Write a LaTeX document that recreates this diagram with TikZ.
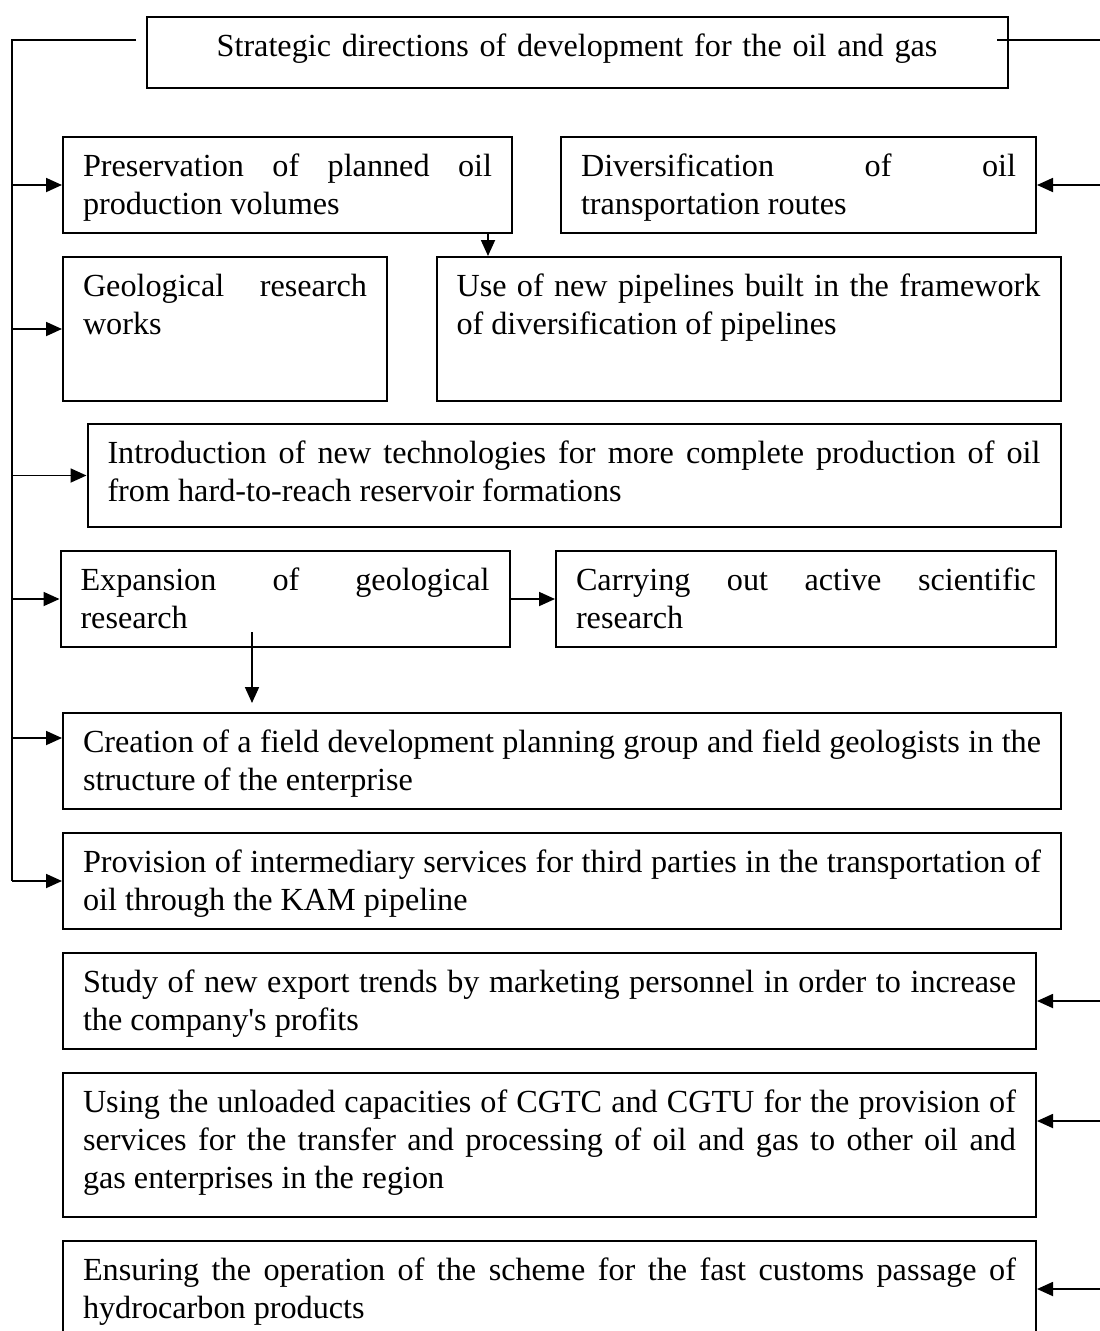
\documentclass[tikz,border=0pt]{standalone}
\usepackage{fontspec}
\setmainfont{Liberation Serif}
\usetikzlibrary{positioning, arrows.meta}

\begin{document}
\begin{tikzpicture}[
  x=1pt, y=-1pt,
  box/.style={draw, line width=2pt, anchor=north west, inner xsep=20pt, inner ysep=11pt,
    align=justify, text height=28pt, font=\fontsize{32.2}{38}\selectfont,
    execute at begin node={\hyphenpenalty=10000\tolerance=10000\hbadness=10000}},
  line/.style={line width=1.8pt},
  arr/.style={->, >={Triangle[length=16pt, width=14pt]}, line width=1.8pt}
]
  \useasboundingbox (0,0) rectangle (1100,1331);

  \node[box, text width=821pt, text depth=21pt, align=center] (title) at (145.5,16)
    {Strategic directions of development for the oil and gas};
  \node[box, text width=409pt, text depth=46pt] (pres) at (62,136)
    {Preservation of planned oil\linebreak production volumes};
  \node[box, text width=435pt, text depth=46pt] (div) at (560,136)
    {Diversification of oil\linebreak transportation routes};
  \node[box, text width=284pt, text depth=94pt] (geo) at (62,256)
    {Geological research\linebreak works};
  \node[box, text width=584pt, text depth=94pt] (pipe) at (435.5,256)
    {Use of new pipelines built in the framework\linebreak of diversification of pipelines};
  \node[box, text width=933pt, text depth=53pt] (intro) at (86.5,423)
    {Introduction of new technologies for more complete production of oil\linebreak from hard-to-reach reservoir formations};
  \node[box, text width=409pt, text depth=46pt] (exp) at (59.5,550)
    {Expansion of geological\linebreak research};
  \node[box, text width=460pt, text depth=46pt] (sci) at (555,550)
    {Carrying out active scientific\linebreak research};
  \node[box, text width=958pt, text depth=46pt] (crea) at (62,712)
    {Creation of a field development planning group and field geologists in the\linebreak structure of the enterprise};
  \node[box, text width=958pt, text depth=46pt, below=22pt of crea.south west, anchor=north west] (prov)
    {Provision of intermediary services for third parties in the transportation of\linebreak oil through the KAM pipeline};
  \node[box, text width=933pt, text depth=46pt, below=22pt of prov.south west, anchor=north west] (study)
    {Study of new export trends by marketing personnel in order to increase\linebreak the company\textquotesingle s profits};
  \node[box, text width=933pt, text depth=94pt, below=22pt of study.south west, anchor=north west] (using)
    {Using the unloaded capacities of CGTC and CGTU for the provision of\linebreak services for the transfer and processing of oil and gas to other oil and\linebreak gas enterprises in the region};
  \node[box, text width=933pt, text depth=46pt, below=22pt of using.south west, anchor=north west] (ens)
    {Ensuring the operation of the scheme for the fast customs passage of\linebreak hydrocarbon products};

  \coordinate (tl) at (136,40);
  \coordinate (tr) at (997,40);
  \coordinate (lbus) at (12,40);
  \coordinate (rbus) at (1100,40);
  \coordinate (pd) at ([xshift=-25pt]pres.south east);
  \coordinate (ed) at (252,632);
  \coordinate (creaIn) at ([yshift=23pt]crea.west);
  \coordinate (usingIn) at ([yshift=24pt]using.east);

  \draw[line] (tl) -- (lbus) -- (lbus |- prov.west);
  \draw[line] (tr) -- (rbus);
  \foreach \n in {pres, geo, intro, exp, prov}
    \draw[arr] (lbus |- \n.west) -- (\n.west);
  \draw[arr] (lbus |- creaIn) -- (creaIn);
  \foreach \n in {div, study, ens}
    \draw[arr] (rbus |- \n.east) -- (\n.east);
  \draw[arr] (rbus |- usingIn) -- (usingIn);

  \draw[arr] (pd) -- (pd |- pipe.north);
  \draw[arr] (exp.east) -- (sci.west);
  \draw[arr, shorten >=9pt] (ed) -- (ed |- crea.north);
\end{tikzpicture}
\end{document}
